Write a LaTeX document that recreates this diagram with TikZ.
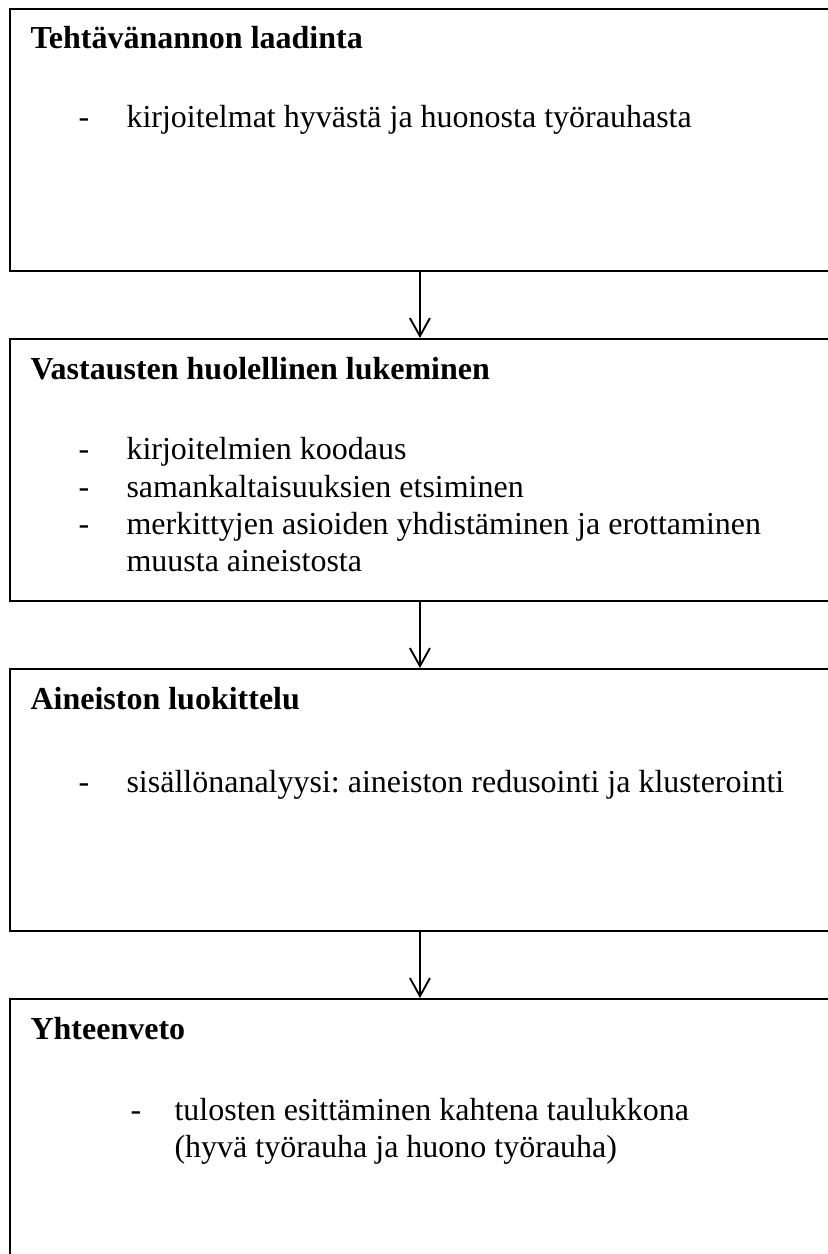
\documentclass[tikz,border=0pt]{standalone}
\usepackage{fontspec}
\setmainfont{Liberation Serif}
\usetikzlibrary{arrows.meta}
\frenchspacing

\tikzset{
  vaihe/.style={draw,line width=0.7pt,anchor=north west,inner sep=0pt,
    minimum width=307.5pt,minimum height=98.25pt},
  teksti/.style={anchor=base west,inner sep=0pt,font=\fontsize{12}{14}\selectfont\frenchspacing},
  otsikko/.style={teksti,font=\fontsize{12}{14}\selectfont\bfseries},
  nuoli/.style={line width=0.7pt,-{Straight Barb[length=6.75pt,width=7.5pt]}}
}

\begin{document}
\begin{tikzpicture}[x=0.375pt,y=-0.375pt]
\useasboundingbox (0,0) rectangle (827,1254);
% boxes
\node[vaihe] (laadinta) at (9,8) {};
\node[vaihe] (lukeminen) at (9,338) {};
\node[vaihe] (luokittelu) at (9,668) {};
\node[vaihe] (yhteenveto) at (9,998) {};
% arrows
\draw[nuoli] (laadinta.south) to (lukeminen.north);
\draw[nuoli] (lukeminen.south) to (luokittelu.north);
\draw[nuoli] (luokittelu.south) to (yhteenveto.north);
% first box
\node[otsikko] (otsikko1) at (30,49) {Tehtävänannon laadinta};
\node[teksti] (viiva1) at (78,128) {-};
\node[teksti] (kohta1) at (126,128) {kirjoitelmat hyvästä ja huonosta työrauhasta};
% second box
\node[otsikko] (otsikko2) at (30,380) {Vastausten huolellinen lukeminen};
\node[teksti] (viiva2a) at (78,459) {-};
\node[teksti] (kohta2a) at (126,459) {kirjoitelmien koodaus};
\node[teksti] (viiva2b) at (78,497) {-};
\node[teksti] (kohta2b) at (126,497) {samankaltaisuuksien etsiminen};
\node[teksti] (viiva2c) at (78,534) {-};
\node[teksti] (kohta2c) at (126,534) {merkittyjen asioiden yhdistäminen ja erottaminen};
\node[teksti] (kohta2d) at (126,571) {muusta aineistosta};
% third box
\node[otsikko] (otsikko3) at (30,709) {Aineiston luokittelu};
\node[teksti] (viiva3) at (78,792) {-};
\node[teksti] (kohta3) at (126,792) {sisällönanalyysi: aineiston redusointi ja klusterointi};
% fourth box
\node[otsikko] (otsikko4) at (30,1039) {Yhteenveto};
\node[teksti] (viiva4) at (130,1120) {-};
\node[teksti] (kohta4a) at (174,1120) {tulosten esittäminen kahtena taulukkona};
\node[teksti] (kohta4b) at (174,1157) {(hyvä työrauha ja huono työrauha)};
\end{tikzpicture}
\end{document}
